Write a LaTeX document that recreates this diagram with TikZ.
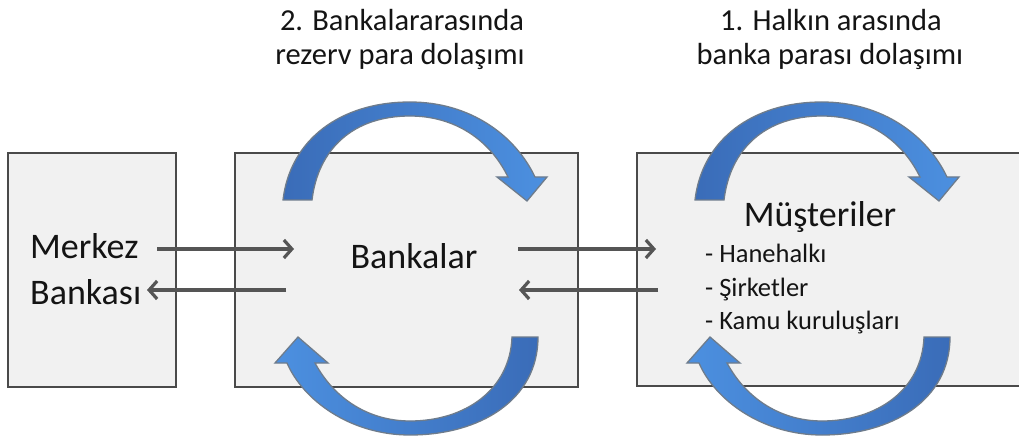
\documentclass[tikz,border=0pt]{standalone}
\usepackage{fontspec}
\setmainfont{Carlito}
\usetikzlibrary{arrows.meta}
\definecolor{boxfill}{HTML}{F1F1F1}
\definecolor{boxline}{HTML}{4A4A4A}
\definecolor{arrline}{HTML}{555555}
\definecolor{bluedark}{HTML}{3A6CB8}
\definecolor{bluelight}{HTML}{4C90E0}
\definecolor{blueedge}{HTML}{6E7C8C}
\definecolor{txt}{HTML}{141414}
\newcommand{\TopCirc}{%
  (283,200) .. controls (290,140) and (340,102) .. (410,102)
  .. controls (470,102) and (515,135) .. (535,177)
  -- (547,177) -- (527,201) -- (497,177) -- (508,177)
  .. controls (490,140) and (455,116) .. (410,116)
  .. controls (352,116) and (318,150) .. (312,200) -- cycle}
\newcommand{\BotCirc}{%
  (538,337) .. controls (538,400) and (480,435) .. (410,435)
  .. controls (350,435) and (303,400) .. (287,363)
  -- (275,363) -- (298,337) -- (328,363) -- (315,363)
  .. controls (335,400) and (370,421) .. (410,421)
  .. controls (465,421) and (510,390) .. (512,337) -- cycle}
\begin{document}
\begin{tikzpicture}[x=1pt,y=-1pt,
  boxnode/.style={rectangle,fill=boxfill,draw=boxline,line width=1.6pt,inner sep=0pt},
  flow/.style={draw=arrline,line width=3.2pt,-{Straight Barb[length=8pt,width=18pt]}},
  circtop/.style={draw=blueedge,line width=1.3pt,left color=bluedark,right color=bluelight},
  circbot/.style={draw=blueedge,line width=1.3pt,left color=bluelight,right color=bluedark},
  hdr/.style={font=\fontsize{30.5}{34}\selectfont,text=txt,align=center,inner sep=0pt},
  big/.style={font=\fontsize{36}{40}\selectfont,text=txt,inner sep=0pt},
  lst/.style={font=\fontsize{26.5}{30}\selectfont,text=txt,inner sep=0pt}]
\useasboundingbox (0,0) rectangle (1019,443);
\fill[white] (0,0) rectangle (1019,443);
% boxes
\node[boxnode,minimum width=168pt,minimum height=234pt] (mb) at (92,270) {};
\node[boxnode,minimum width=343pt,minimum height=234pt] (bk) at (406.5,270) {};
\node[rectangle,fill=boxfill,inner sep=0pt,minimum width=382pt,minimum height=233pt] (ms) at (828,269.5) {};
\draw[boxline,line width=1.6pt] (ms.north east) -- (ms.north west) -- (ms.south west) -- (ms.south east);
% headers
\node[hdr,anchor=base] (h2) at (402,31) {2. Bankalararasında};
\node[hdr,anchor=base] (h2b) at (400,65) {rezerv para dolaşımı};
\node[hdr,anchor=base] (h1) at (831,31) {1. Halkın arasında};
\node[hdr,anchor=base] (h1b) at (830,65) {banka parası dolaşımı};
% texts
\node[big,anchor=base west] (t1) at (30,259) {Merkez};
\node[big,anchor=base west] (t2) at (30,305) {Bankası};
\node[big,anchor=base] (t3) at (414,269) {Bankalar};
\node[font=\fontsize{36}{40}\selectfont,text=txt,inner sep=0pt,anchor=base] (t4) at (820,227) {Müşteriler};
\node[lst,anchor=base west] (l1) at (705,263) {- Hanehalkı};
\node[lst,anchor=base west] (l2) at (705,297) {- Şirketler};
\node[lst,anchor=base west] (l3) at (705,330) {- Kamu kuruluşları};
% straight arrows
\coordinate (a1s) at (157,249);
\coordinate (a1e) at (294,249);
\coordinate (a2s) at (286,290);
\coordinate (a2e) at (147,290);
\coordinate (a3s) at (518,249);
\coordinate (a3e) at (656,249);
\coordinate (a4s) at (658,290);
\coordinate (a4e) at (519,290);
\draw[flow] (a1s) -- (a1e);
\draw[flow] (a2s) -- (a2e);
\draw[flow] (a3s) -- (a3e);
\draw[flow] (a4s) -- (a4e);
% circular arrows
\path[circtop] \TopCirc;
\path[circbot] \BotCirc;
\begin{scope}[xshift=412pt]
\path[circtop] \TopCirc;
\path[circbot] \BotCirc;
\end{scope}
\end{tikzpicture}
\end{document}
